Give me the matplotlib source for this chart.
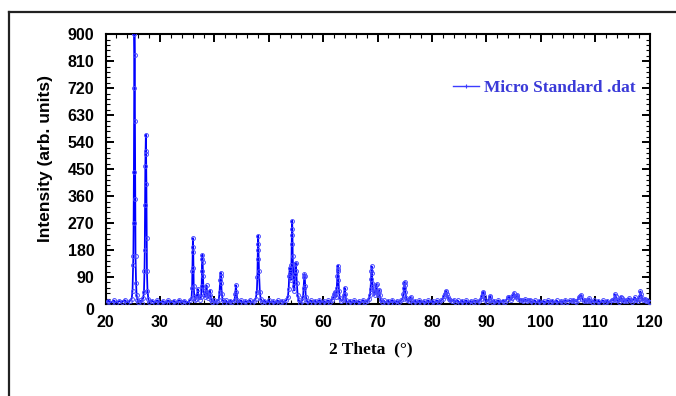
import matplotlib
matplotlib.use("Agg")
import matplotlib.pyplot as plt
from matplotlib.lines import Line2D
from matplotlib.ticker import AutoMinorLocator
from matplotlib.transforms import ScaledTranslation

two_theta = [
    20.0, 20.5, 21.0, 21.5, 22.0, 22.5, 23.0, 23.5, 24.0, 24.5,
    24.8, 24.95, 25.05, 25.1, 25.15, 25.2, 25.25, 25.3, 25.35, 25.4, 25.45, 25.5, 25.6, 25.7, 25.85, 26.0,
    26.3, 26.6, 26.9, 27.05, 27.15, 27.2, 27.25, 27.3, 27.35, 27.4, 27.45, 27.5, 27.55, 27.6, 27.7, 27.85, 28.0,
    28.5, 29.0, 29.5, 30.0, 30.5, 31.0, 31.5, 32.0, 32.5, 33.0, 33.5, 34.0, 34.5, 35.0, 35.5,
    35.8, 35.9, 35.95, 36.0, 36.05, 36.1, 36.15, 36.2, 36.3, 36.45, 36.6, 36.8, 36.95, 37.1, 37.3,
    37.55, 37.65, 37.7, 37.75, 37.8, 37.85, 37.9, 38.0, 38.15, 38.3, 38.45, 38.55, 38.65, 38.8, 39.0, 39.15, 39.25, 39.4, 39.6, 39.9,
    40.2, 40.5, 40.8, 40.95, 41.05, 41.15, 41.2, 41.25, 41.35, 41.5, 41.8,
    42.1, 42.5, 42.9, 43.3, 43.7, 43.85, 43.95, 44.05, 44.2, 44.5,
    44.9, 45.3, 45.7, 46.1, 46.5, 46.9, 47.3, 47.6, 47.8, 47.9, 47.95, 48.0, 48.05, 48.1, 48.2, 48.35, 48.5, 48.8,
    49.2, 49.6, 50.0, 50.4, 50.8, 51.2, 51.6, 52.0, 52.4, 52.8, 53.2, 53.5,
    53.65, 53.75, 53.85, 53.95, 54.05, 54.15, 54.2, 54.25, 54.3, 54.35, 54.4, 54.5, 54.6, 54.7, 54.8, 54.9, 54.95, 55.05, 55.15, 55.3, 55.5, 55.8,
    56.1, 56.3, 56.4, 56.5, 56.55, 56.6, 56.7, 56.8, 57.0, 57.3,
    57.7, 58.1, 58.5, 58.9, 59.3, 59.7, 60.1, 60.5, 60.9, 61.3, 61.6,
    61.85, 62.0, 62.1, 62.2, 62.35, 62.5, 62.6, 62.65, 62.7, 62.75, 62.8, 62.9, 63.05, 63.3, 63.6, 63.8, 63.95, 64.05, 64.2, 64.5,
    64.9, 65.3, 65.7, 66.1, 66.5, 66.9, 67.3, 67.7, 68.1, 68.4,
    68.6, 68.7, 68.8, 68.85, 68.9, 68.95, 69.05, 69.15, 69.3, 69.45, 69.6, 69.7, 69.8, 69.9, 70.05, 70.2, 70.3, 70.4, 70.55, 70.8,
    71.1, 71.5, 71.9, 72.3, 72.7, 73.1, 73.5, 73.9, 74.3, 74.6,
    74.75, 74.85, 74.9, 74.95, 75.0, 75.1, 75.25, 75.45, 75.7, 75.95, 76.05, 76.2, 76.5,
    76.9, 77.3, 77.7, 78.1, 78.5, 78.9, 79.3, 79.7, 80.1, 80.5, 80.9, 81.3, 81.7, 82.0,
    82.2, 82.35, 82.5, 82.6, 82.75, 82.9, 83.1, 83.4, 83.7, 84.0, 84.3,
    84.7, 85.1, 85.5, 85.9, 86.3, 86.7, 87.1, 87.5, 87.9, 88.3, 88.7, 89.0,
    89.2, 89.35, 89.45, 89.6, 89.8, 90.1, 90.4, 90.6, 90.7, 90.85, 91.1, 91.4,
    91.8, 92.2, 92.6, 93.0, 93.4, 93.7, 93.95, 94.2, 94.45, 94.7, 94.9, 95.05, 95.2, 95.4, 95.55, 95.7, 95.9, 96.2, 96.5, 96.8, 97.1, 97.4, 97.7, 98.0, 98.2, 98.5,
    98.9, 99.3, 99.7, 100.1, 100.5, 100.9, 101.3, 101.7, 102.1, 102.5, 102.9, 103.3, 103.7, 104.1, 104.5, 104.9, 105.3, 105.7, 106.0, 106.2, 106.5,
    106.8, 107.0, 107.2, 107.4, 107.6, 107.9, 108.2, 108.5, 108.7, 108.9, 109.1, 109.4,
    109.8, 110.2, 110.6, 111.0, 111.4, 111.8, 112.2, 112.6, 113.0, 113.3,
    113.5, 113.6, 113.75, 113.9, 114.1, 114.35, 114.55, 114.7, 114.85, 115.05, 115.3, 115.6, 115.9, 116.2, 116.4, 116.7,
    117.0, 117.3, 117.5, 117.8, 118.0, 118.2, 118.3, 118.4, 118.6, 118.8, 119.0, 119.2, 119.4, 119.6, 119.8, 120.0,
]

intensity = [
    4, 11, 5, 12, 4, 10, 6, 13, 5, 11,
    18, 45, 130, 160, 270, 440, 720, 900, 830, 610, 350, 160, 70, 30, 14, 6,
    12, 5, 20, 40, 110, 180, 330, 460, 510, 565, 500, 400, 220, 110, 45, 18, 6,
    11, 4, 12, 5, 10, 3, 12, 5, 11, 4, 13, 6, 10, 4, 12,
    20, 55, 110, 175, 220, 190, 120, 60, 25, 12, 18, 30, 50, 22, 15,
    25, 60, 110, 150, 165, 140, 95, 45, 30, 25, 40, 62, 35, 20, 28, 45, 30, 14, 8, 12,
    4, 11, 14, 40, 80, 105, 95, 70, 35, 14, 5,
    12, 4, 11, 6, 14, 35, 63, 40, 15, 5,
    12, 4, 10, 5, 13, 4, 11, 18, 40, 90, 150, 200, 228, 180, 110, 40, 18, 6,
    11, 4, 12, 5, 10, 3, 12, 6, 11, 5, 12, 22,
    50, 95, 120, 100, 80, 130, 200, 250, 278, 230, 160, 90, 45, 60, 100, 135, 138, 110, 70, 30, 12, 5,
    11, 25, 55, 90, 100, 95, 60, 25, 10, 4,
    12, 5, 11, 4, 13, 5, 10, 4, 12, 6, 14,
    22, 35, 40, 30, 25, 55, 95, 118, 128, 110, 80, 45, 20, 10, 14, 30, 54, 35, 12, 5,
    11, 4, 12, 5, 10, 4, 13, 6, 11, 16,
    30, 50, 85, 110, 126, 105, 70, 50, 40, 30, 45, 62, 66, 40, 30, 42, 46, 30, 15, 6,
    12, 4, 11, 5, 13, 4, 10, 6, 12, 18,
    35, 55, 70, 74, 65, 40, 20, 12, 10, 20, 24, 12, 5,
    11, 4, 12, 5, 10, 3, 12, 5, 11, 4, 12, 6, 13, 18,
    28, 35, 44, 40, 32, 25, 16, 12, 10, 14, 6,
    12, 4, 11, 5, 12, 4, 10, 6, 12, 5, 11, 16,
    28, 38, 41, 26, 12, 8, 14, 24, 26, 15, 6, 11,
    4, 12, 5, 11, 8, 14, 22, 24, 14, 20, 30, 37, 28, 22, 28, 30, 18, 12, 14, 9, 16, 10, 12, 14, 9, 5,
    12, 4, 11, 5, 10, 4, 12, 6, 11, 5, 12, 4, 10, 6, 13, 8, 12, 9, 14, 11, 8,
    14, 22, 26, 29, 18, 10, 13, 9, 15, 19, 11, 6,
    12, 5, 11, 4, 12, 6, 11, 5, 14, 12,
    18, 33, 28, 15, 12, 8, 16, 24, 20, 12, 9, 14, 10, 19, 13, 8,
    15, 22, 13, 10, 18, 28, 42, 35, 20, 12, 15, 18, 10, 14, 8, 6,
]

assert len(two_theta) == len(intensity), (len(two_theta), len(intensity))

series_label = "Micro Standard .dat"
x_ticks = [20, 30, 40, 50, 60, 70, 80, 90, 100, 110, 120]
y_ticks = [0, 90, 180, 270, 360, 450, 540, 630, 720, 810, 900]

# ---- figure ----
W, H = 676, 396
fig = plt.figure(figsize=(W / 100, H / 100), dpi=100)

ax = fig.add_axes([105.6 / W, 1 - 304 / H, (649.6 - 105.6) / W, (304 - 34.3) / H])
ax.plot(two_theta, intensity, color="#0000ff", lw=1.25, marker="o", ms=2.8,
        mfc="none", mec="#4a4aff", mew=0.7, zorder=3)

ax.set_xlim(20, 120)
ax.set_ylim(0, 900)
ax.set_xticks(x_ticks)
ax.set_yticks(y_ticks)
ax.xaxis.set_minor_locator(AutoMinorLocator(5))
ax.yaxis.set_minor_locator(AutoMinorLocator(5))
ax.tick_params(which="both", direction="in", top=True, right=True)
ax.tick_params(which="major", length=6, width=1.4, pad=8)
ax.tick_params(which="minor", length=3, width=0.8)
for lab in ax.get_xticklabels() + ax.get_yticklabels():
    lab.set_fontfamily("Liberation Sans")
    lab.set_fontweight("bold")
    lab.set_fontsize(11.5)
# the "0" label sits a little below the axis line in the reference
ylabs = ax.get_yticklabels()
ylabs[0].set_transform(ylabs[0].get_transform() +
                       ScaledTranslation(0, -5 / 100, fig.dpi_scale_trans))
for sp in ax.spines.values():
    sp.set_linewidth(1.5)

# legend
handle = Line2D([], [], color="#3c3cff", lw=1.0, marker="+", ms=3, mew=0.8)
leg = ax.legend([handle], [series_label], loc="center right",
                bbox_to_anchor=(0.975, 0.80), frameon=False, borderpad=0,
                borderaxespad=0, handlelength=1.5, handletextpad=0.3,
                prop={"family": "Liberation Serif", "weight": "bold", "size": 12.5})
for t in leg.get_texts():
    t.set_color("#3a3ad8")

# axis labels
fig.text(46 / W, 1 - 158 / H, "Intensity (arb. units)", rotation=90,
         ha="center", va="center", family="Liberation Sans", weight="bold", size=12.5)
fig.text(371 / W, 1 - 349 / H, "2 Theta  (°)", ha="center", va="center",
         family="Liberation Serif", weight="bold", size=12.5)

# outer frame lines
fig.add_artist(Line2D([9 / W, 1.0], [1 - 12 / H, 1 - 12 / H], color="#222222", lw=1.6,
                      transform=fig.transFigure))
fig.add_artist(Line2D([9 / W, 9 / W], [0.0, 1 - 12 / H], color="#222222", lw=1.6,
                      transform=fig.transFigure))

fig.savefig("out.png", dpi=100)
